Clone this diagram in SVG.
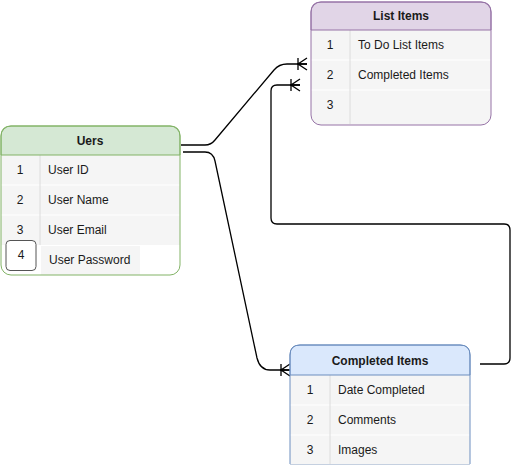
<svg xmlns="http://www.w3.org/2000/svg" width="519" height="466" viewBox="0 0 519 466">
<style>
text{font-family:"Liberation Sans",Arial,sans-serif;font-size:12px;fill:#1a1a1a}
.h{font-weight:bold;text-anchor:middle}
.n{text-anchor:middle}
.body{fill:#f5f5f5}
.sep{stroke:#ffffff;stroke-width:1}
.div{stroke:#dcdcdc;stroke-width:1}
.conn{fill:none;stroke:#000;stroke-width:1.3}
</style>
<defs>
<marker id="ermany" markerUnits="userSpaceOnUse" markerWidth="14" markerHeight="16" viewBox="-12 -8 14 16" refX="0" refY="0" orient="auto">
<path d="M-10,0 L0,0 M0,-6 L-9,0 L0,6 M-9,-6 L-9,6" fill="none" stroke="#000" stroke-width="1.3"/>
</marker>
</defs>
<g id="connectors">
<path class="conn" d="M181,145 L205,145 Q211,145 215,140 L274,70 Q279,64 287,64 L307,64" marker-end="url(#ermany)"/>
<path class="conn" d="M183,152 L205,152 Q213,152 215,161 L257,358 Q260,370 270,370 L290,370" marker-end="url(#ermany)" stroke="#333"/>
<path class="conn" d="M480,364 L504,364 Q510,364 510,358 L510,230 Q510,224 504,224 L277,224 Q271,224 271,218 L271,91 Q271,85 277,85 L300,85" marker-end="url(#ermany)"/>
</g>
<g id="users">
<rect x="1" y="126" width="179" height="149" rx="10" fill="#ffffff"/>
<rect class="body" x="1" y="155" width="179" height="90"/>
<line class="sep" x1="1" y1="185" x2="180" y2="185"/>
<line class="sep" x1="1" y1="215" x2="180" y2="215"/>
<line class="div" x1="40" y1="155" x2="40" y2="245"/>
<rect class="body" x="41" y="246" width="99" height="29"/>
<path d="M1,155 L1,136 Q1,126 11,126 L170,126 Q180,126 180,136 L180,155 Z" fill="#d5e8d4" stroke="#82b366"/>
<rect x="1" y="126" width="179" height="149" rx="10" fill="none" stroke="#82b366"/>
<rect x="6" y="240.5" width="30" height="30" rx="4" fill="#ffffff" stroke="#555" stroke-width="1"/>
<text class="h" x="90" y="145">Uers</text>
<text class="n" x="20" y="174">1</text>
<text x="48" y="174">User ID</text>
<text class="n" x="20" y="204">2</text>
<text x="48" y="204">User Name</text>
<text class="n" x="20" y="234">3</text>
<text x="48" y="234">User Email</text>
<text class="n" x="21" y="259">4</text>
<text x="49" y="264">User Password</text>
</g>
<g id="list-items">
<rect x="311" y="2" width="180" height="123" rx="10" fill="#f5f5f5"/>
<line class="sep" x1="311" y1="60" x2="491" y2="60"/>
<line class="sep" x1="311" y1="90" x2="491" y2="90"/>
<line class="div" x1="350" y1="30" x2="350" y2="124"/>
<path d="M311,30 L311,12 Q311,2 321,2 L481,2 Q491,2 491,12 L491,30 Z" fill="#e1d5e7" stroke="#9673a6"/>
<rect x="311" y="2" width="180" height="123" rx="10" fill="none" stroke="#9673a6"/>
<text class="h" x="401" y="20">List Items</text>
<text class="n" x="330" y="49">1</text>
<text x="358" y="49">To Do List Items</text>
<text class="n" x="330" y="79">2</text>
<text x="358" y="79">Completed Items</text>
<text class="n" x="330" y="109">3</text>
</g>
<g id="completed-items">
<path d="M290,464 L290,355 Q290,345 300,345 L460,345 Q470,345 470,355 L470,464 Z" fill="#f5f5f5"/>
<line class="sep" x1="290" y1="405" x2="470" y2="405"/>
<line class="sep" x1="290" y1="435" x2="470" y2="435"/>
<line class="div" x1="330" y1="375" x2="330" y2="464"/>
<path d="M290,375 L290,355 Q290,345 300,345 L460,345 Q470,345 470,355 L470,375 Z" fill="#dae8fc" stroke="#6c8ebf"/>
<path d="M290,464 L290,355 Q290,345 300,345 L460,345 Q470,345 470,355 L470,464" fill="none" stroke="#6c8ebf"/>
<line x1="290" y1="464.5" x2="470" y2="464.5" stroke="#c5d0e0"/>
<text class="h" x="380" y="365">Completed Items</text>
<text class="n" x="310" y="394">1</text>
<text x="338" y="394">Date Completed</text>
<text class="n" x="310" y="424">2</text>
<text x="338" y="424">Comments</text>
<text class="n" x="310" y="454">3</text>
<text x="338" y="454">Images</text>
</g>
</svg>
